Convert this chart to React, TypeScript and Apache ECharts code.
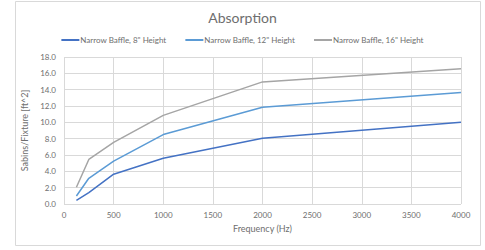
import React, { useEffect, useRef } from "react";
import * as echarts from "echarts";

const frequencies = [125, 250, 500, 1000, 2000, 4000];
const baffle8 = [0.45, 1.4, 3.65, 5.6, 8.05, 10.0];
const baffle12 = [0.98, 3.15, 5.25, 8.5, 11.85, 13.65];
const baffle16 = [2.05, 5.45, 7.55, 10.85, 14.95, 16.55];
const seriesNames = ['Narrow Baffle, 8" Height', 'Narrow Baffle, 12" Height', 'Narrow Baffle, 16" Height'];
const colors = ["#4472C4", "#5B9BD5", "#A5A5A5"];

const FONT = "Lato, 'Noto Sans', sans-serif";
const TEXT = "#6e6e6e";

export default function App() {
  const ref = useRef<HTMLDivElement>(null);
  useEffect(() => {
    if (!ref.current) return;
    const chart = echarts.init(ref.current, null, { renderer: "svg" });
    const all = [baffle8, baffle12, baffle16];
    chart.setOption({
      animation: false,
      backgroundColor: "#ffffff",
      textStyle: { fontFamily: FONT },
      title: {
        text: "Absorption",
        left: "center",
        top: 5,
        textStyle: { fontSize: 14, fontWeight: "normal", color: TEXT, fontFamily: FONT },
      },
      legend: {
        top: 31,
        left: "center",
        itemWidth: 18,
        itemHeight: 2,
        itemGap: 19,
        icon: "rect",
        textStyle: { fontSize: 8, color: TEXT, fontFamily: FONT, padding: [0, 0, 0, -4] },
        data: seriesNames,
      },
      graphic: [
        {
          type: "rect",
          shape: { x: 15.5, y: 1.5, width: 465, height: 244 },
          style: { fill: "none", stroke: "#d9d9d9", lineWidth: 1 },
          silent: true,
        },
      ],
      grid: { left: 64, right: 24, top: 57, bottom: 46 },
      xAxis: {
        type: "value",
        min: 0,
        max: 4000,
        interval: 500,
        name: "Frequency (Hz)",
        nameLocation: "middle",
        nameGap: 20,
        nameTextStyle: { fontSize: 9, color: TEXT, fontFamily: FONT },
        axisLine: { show: false },
        axisTick: { show: false },
        axisLabel: {
          fontSize: 8,
          color: TEXT,
          margin: 7,
          fontFamily: FONT,
          formatter: (v: number) => String(v),
        },
        splitLine: { show: true, lineStyle: { color: "#d9d9d9", width: 1 } },
      },
      yAxis: {
        type: "value",
        min: 0,
        max: 18,
        interval: 2,
        name: "Sabins/Fixture [ft^2]",
        nameLocation: "middle",
        nameGap: 27,
        nameTextStyle: { fontSize: 9, color: TEXT, fontFamily: FONT },
        axisLine: { show: false },
        axisTick: { show: false },
        axisLabel: {
          fontSize: 8,
          color: TEXT,
          margin: 8,
          fontFamily: FONT,
          formatter: (v: number) => v.toFixed(1),
        },
        splitLine: { show: true, lineStyle: { color: "#d9d9d9", width: 1 } },
      },
      series: all.map((vals, i) => ({
        name: seriesNames[i],
        type: "line",
        data: frequencies.map((f, j) => [f, vals[j]]),
        showSymbol: false,
        symbol: "none",
        itemStyle: { color: colors[i] },
        lineStyle: { color: colors[i], width: 1.5 },
      })),
    });
    return () => chart.dispose();
  }, []);
  return (
    <div
      ref={ref}
      style={{ position: "absolute", left: 0, top: 0, width: 485, height: 250 }}
    />
  );
}
